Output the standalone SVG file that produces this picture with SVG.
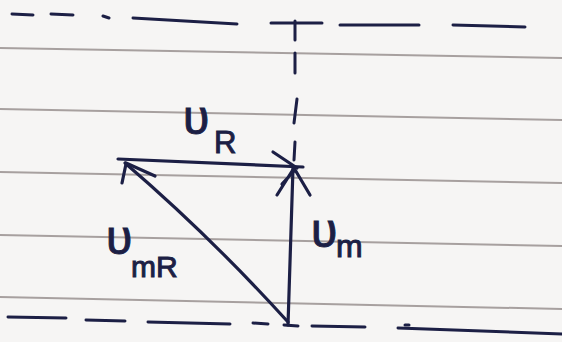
<svg xmlns="http://www.w3.org/2000/svg" width="562" height="342" viewBox="0 0 562 342">
<style>
.rule{stroke:#948b89;stroke-width:2;fill:none;opacity:0.8}
.ink{stroke:#1c1f45;stroke-width:3.2;fill:none;stroke-linecap:round;stroke-linejoin:round}
.dash{stroke:#1c1f45;stroke-width:3;fill:none;stroke-linecap:round}
.lbl{font-family:"Liberation Sans","DejaVu Sans",sans-serif;fill:#1c1f45;stroke:#1c1f45;stroke-width:1}
</style>
<rect width="562" height="342" fill="#f6f5f4"/>
<g id="paper-lines">
<path class="rule" d="M0,48 L562,58"/>
<path class="rule" d="M0,109 L562,120"/>
<path class="rule" d="M0,172 L562,183"/>
<path class="rule" d="M0,235 L562,246"/>
<path class="rule" d="M0,297 L562,309"/>
</g>
<g id="dashed-guides">
<path class="dash" d="M12,14 L33,15 M51,14 L73,15 M103,16 L109,18 M133,18 L237,24 M271,23 L322,23 M340,25 L419,25 M453,25 L525,27"/>
<path class="dash" d="M295,21 L295,40 M295,53 L295,73 M297,99 L294,123 M295,142 L294,160"/>
<path class="dash" d="M8,317 L66,318 M86,320 L125,321 M148,322 L230,324 M253,323 L268,324 M284,325 L298,326 M312,326 L365,327 M398,328 L562,334"/>
<path class="dash" d="M405,325 L409,325"/>
</g>
<g id="connectors">
<g id="v-m">
<path class="ink" d="M288,325 L293,168"/>
<path class="ink" d="M277,195 L294,168 L310,195 M282,184 L294,171"/>
</g>
<g id="v-R">
<path class="ink" d="M303,167 L118,159"/>
<path class="ink" d="M273,152 L297,168"/>
</g>
<g id="v-mR">
<path class="ink" d="M288,322 Q210,236 125,163"/>
<path class="ink" d="M122,183 L126,164 M155,176 L126,163"/>
</g>
</g>
<g id="label-vR">
<text class="lbl" x="183" y="134" font-size="48">υ<tspan x="214" y="153" font-size="31">R</tspan></text>
</g>
<g id="label-vm">
<text class="lbl" x="311" y="247" font-size="48">υ<tspan x="336" y="257" font-size="32">m</tspan></text>
</g>
<g id="label-vmR">
<text class="lbl" x="106" y="254" font-size="48">υ<tspan x="131" y="277" font-size="30">mR</tspan></text>
</g>
</svg>
